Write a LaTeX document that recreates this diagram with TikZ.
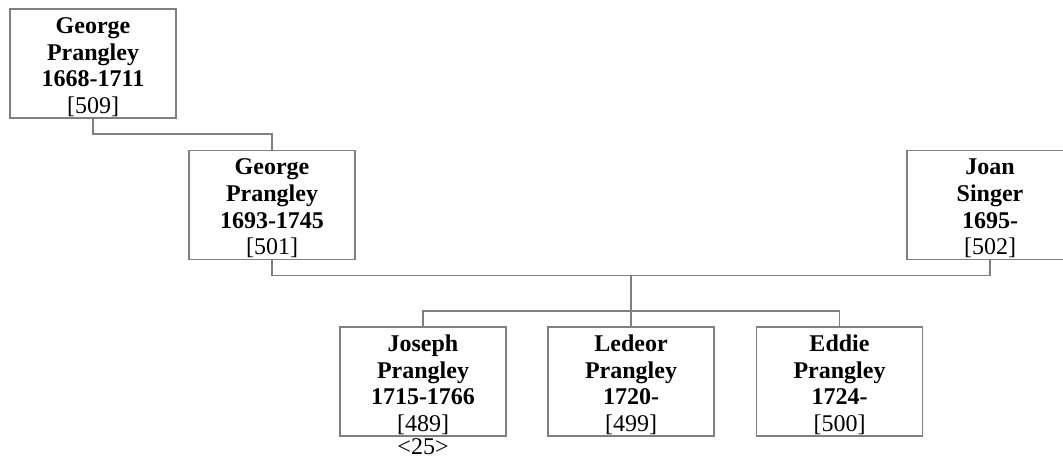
\documentclass[tikz,border=0pt]{standalone}
\usepackage{fontspec}
\setmainfont{Liberation Serif}
\usetikzlibrary{positioning}

\tikzset{
	person/.style={draw=gray, line width=1.1pt, text width=160pt, inner xsep=3pt, inner ysep=0pt,
		minimum width=166pt, minimum height=109pt, align=center,
		font=\fontsize{24}{26.7}\selectfont, execute at begin node=\rule{0pt}{23pt}},
	link/.style={draw=gray, line width=1.1pt}
}

\begin{document}
\begin{tikzpicture}[x=1pt, y=-1pt]
	\useasboundingbox (0,0) rectangle (1063,459);
	\clip (0,0) rectangle (1063,459);
	
	% People
	\node[person] (george1) at (93,63.5) {\textbf{George\\ Prangley\\ 1668-1711}\\ {[509]}};
	\node[person] (george2) at (272,205) {\textbf{George\\ Prangley\\ 1693-1745}\\ {[501]}};
	\node[person] (joan) at (990,205) {\textbf{Joan\\ Singer\\ 1695-}\\ {[502]}};
	\node[person] (joseph) at (423,381.5) {\textbf{Joseph\\ Prangley\\ 1715-1766}\\ {[489]}};
	\node[person] (ledeor) at (631,381.5) {\textbf{Ledeor\\ Prangley\\ 1720-}\\ {[499]}};
	\node[person] (eddie) at (839.5,381.5) {\textbf{Eddie\\ Prangley\\ 1724-}\\ {[500]}};
	\node[inner sep=0pt, font=\fontsize{24}{26.7}\selectfont, below=2pt of joseph] (gen) {<25>};
	
	% Lines
	\coordinate (parent) at (93,134);
	\coordinate (marriage) at (631,275.7);
	\coordinate (siblings) at (631,311);
	\draw[link] (george1.south) -- (parent) -| (george2.north);
	\draw[link] (george2.south) -- (george2.south |- marriage) -- (joan.south |- marriage) -- (joan.south);
	\draw[link] (marriage) -- (siblings);
	\draw[link] (joseph.north) |- (siblings);
	\draw[link] (eddie.north) |- (siblings);
	\draw[link] (siblings) -- (ledeor.north);
\end{tikzpicture}
\end{document}
